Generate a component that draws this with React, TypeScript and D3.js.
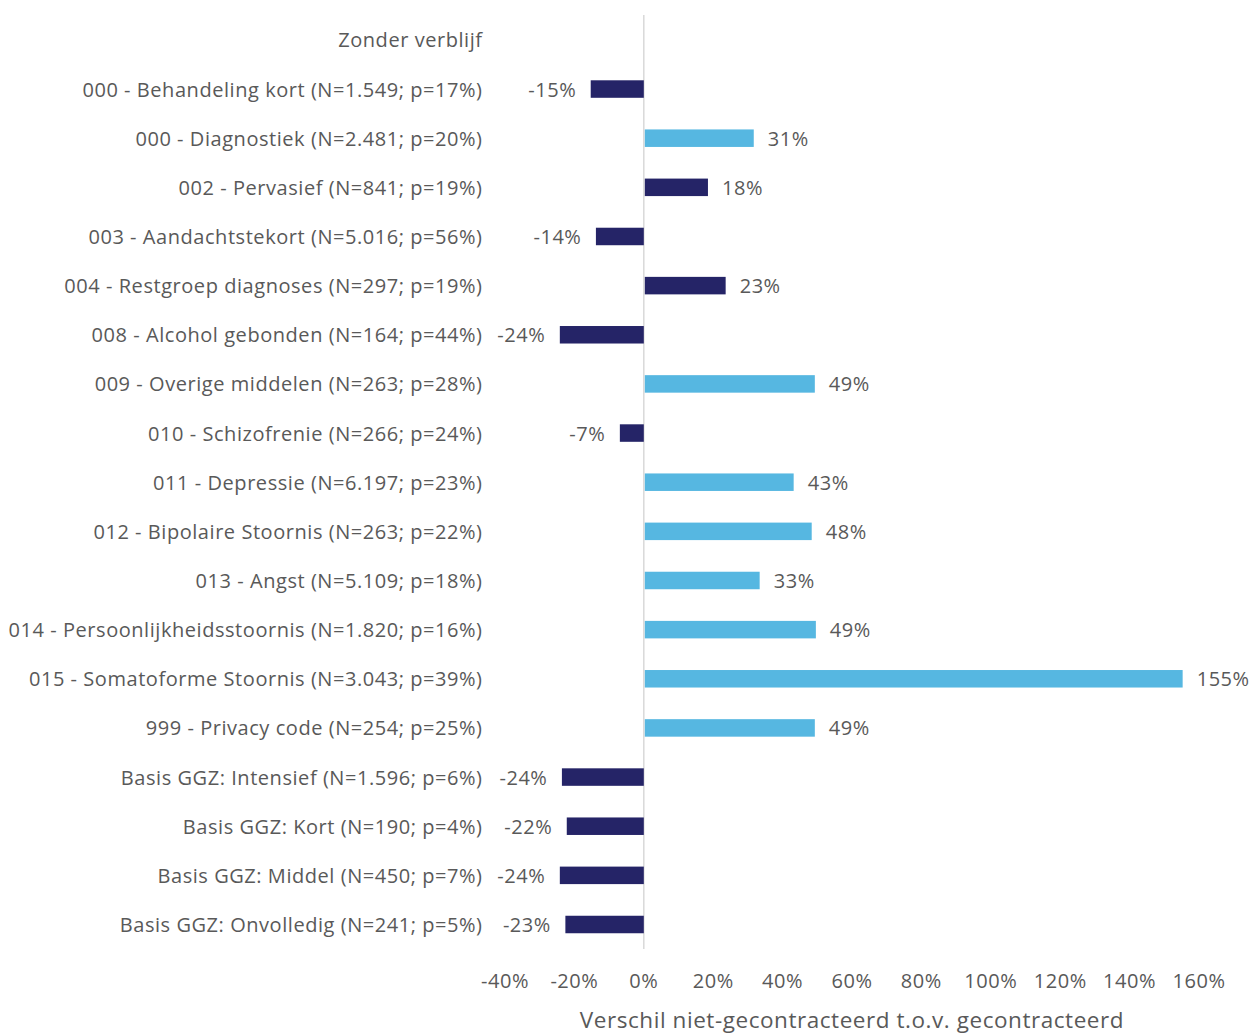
import React from "react";
import * as d3 from "d3";

const categories = [
  "Zonder verblijf",
  "000 - Behandeling kort (N=1.549; p=17%)",
  "000 - Diagnostiek (N=2.481; p=20%)",
  "002 - Pervasief (N=841; p=19%)",
  "003 - Aandachtstekort (N=5.016; p=56%)",
  "004 - Restgroep diagnoses (N=297; p=19%)",
  "008 - Alcohol gebonden (N=164; p=44%)",
  "009 - Overige middelen (N=263; p=28%)",
  "010 - Schizofrenie (N=266; p=24%)",
  "011 - Depressie (N=6.197; p=23%)",
  "012 - Bipolaire Stoornis (N=263; p=22%)",
  "013 - Angst (N=5.109; p=18%)",
  "014 - Persoonlijkheidsstoornis (N=1.820; p=16%)",
  "015 - Somatoforme Stoornis (N=3.043; p=39%)",
  "999 - Privacy code (N=254; p=25%)",
  "Basis GGZ: Intensief (N=1.596; p=6%)",
  "Basis GGZ: Kort (N=190; p=4%)",
  "Basis GGZ: Middel (N=450; p=7%)",
  "Basis GGZ: Onvolledig (N=241; p=5%)",
];

// null = header row without bar
const values: (number | null)[] = [
  null, -15.3, 31.4, 18.2, -13.8, 23.3, -24.2, 49.0, -6.9, 42.9, 48.1, 33.1, 49.3, 155.0, 49.0, -23.6, -22.2, -24.2, -22.6,
];

// true = light blue (significant), false = dark navy
const highlight: boolean[] = [
  false, false, true, false, false, false, false, true, false, true, true, true, true, true, true, false, false, false, false,
];

const xTicks = [-40, -20, 0, 20, 40, 60, 80, 100, 120, 140, 160];
const xTitle = "Verschil niet-gecontracteerd t.o.v. gecontracteerd";

const W = 1251;
const H = 1033;
const FONT = "'Open Sans', sans-serif";
const TEXT = "#595959";
const DARK = "#252467";
const LIGHT = "#56B7E1";
const LS = 0.55;

export default function App() {
  const x = d3.scaleLinear().domain([-40, 160]).range([505, 1199]);
  const y = d3.scalePoint<string>().domain(categories).range([39.9, 924.5]);
  const barH = 17.5;
  const x0 = x(0);

  return (
    <svg
      width={W}
      height={H}
      style={{ position: "absolute", left: 0, top: 0, background: "#fff" }}
      fontFamily={FONT}
      letterSpacing={LS}
    >
      <line x1={x0} x2={x0} y1={15} y2={949} stroke="#d9d9d9" strokeWidth={1.5} />
      {categories.map((c, i) => {
        const cy = y(c)!;
        const v = values[i];
        return (
          <g key={c}>
            <text
              x={482 + LS}
              y={cy}
              textAnchor="end"
              dominantBaseline="central"
              fontSize={20}
              fill={TEXT}
            >
              {c}
            </text>
            {v !== null && (
              <>
                <rect
                  x={Math.min(x(v), x0 + 1)}
                  y={cy - barH / 2}
                  width={Math.abs(x(v) - x0)}
                  height={barH}
                  fill={highlight[i] ? LIGHT : DARK}
                />
                <text
                  x={v >= 0 ? x(v) + 15 : x(v) - 15 + LS}
                  y={cy}
                  textAnchor={v >= 0 ? "start" : "end"}
                  dominantBaseline="central"
                  fontSize={20}
                  fill={TEXT}
                >
                  {Math.round(v) + "%"}
                </text>
              </>
            )}
          </g>
        );
      })}
      {xTicks.map((t) => (
        <text
          key={t}
          x={x(t)}
          y={980}
          textAnchor="middle"
          dominantBaseline="central"
          fontSize={20}
          fill={TEXT}
        >
          {t + "%"}
        </text>
      ))}
      <text
        x={852}
        y={1019}
        textAnchor="middle"
        dominantBaseline="central"
        fontSize={22.5}
        fill={TEXT}
      >
        {xTitle}
      </text>
    </svg>
  );
}
